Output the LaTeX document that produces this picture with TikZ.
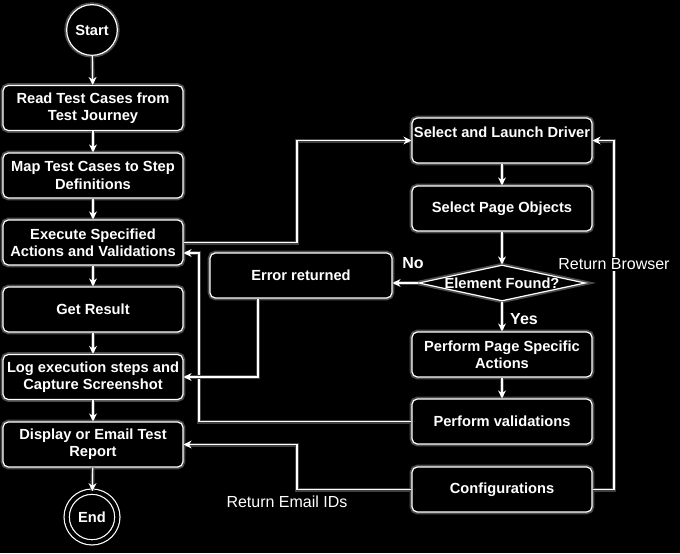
\documentclass[tikz,border=0pt]{standalone}
\usepackage{fontspec}
\setmainfont{Liberation Sans}
\usetikzlibrary{arrows.meta, shapes.geometric, calc}

\begin{document}
\begin{tikzpicture}[x=0.75pt,y=0.75pt,yscale=-1,
  box/.style={draw=white, line width=0.9pt, rounded corners=4pt, fill=black, text=white,
    font=\bfseries\fontsize{11}{13}\selectfont, align=center,
    minimum width=135pt, minimum height=33.75pt, inner sep=1pt,
    preaction={draw=white!30!black, line width=3.5pt}},
  terminal/.style={circle, draw=white, line width=0.9pt, fill=black, text=white,
    font=\bfseries\fontsize{11}{13}\selectfont, minimum size=38pt, inner sep=0pt,
    preaction={draw=white!30!black, line width=3.5pt}},
  decision/.style={diamond, draw=white, line width=0.9pt, fill=black,
    minimum width=125pt, minimum height=27pt, inner sep=0pt,
    preaction={draw=white!30!black, line width=3.5pt}},
  flow/.style={draw=white, line width=0.9pt, -{Stealth[length=6pt,width=6pt,inset=2pt]},
    preaction={draw=white!25!black, line width=3pt, -}},
  lbl/.style={text=white, fill=black, inner sep=1pt, font=\fontsize{12}{14}\selectfont},
  tag/.style={text=white, inner sep=1pt, font=\bfseries\fontsize{12}{14}\selectfont}]

%background
\fill[black] (0,0) rectangle (680,553);

%bend columns
\coordinate (jA) at (297,0);
\coordinate (jB) at (199,0);
\coordinate (jC) at (258,0);
\coordinate (jD) at (614,0);

%left column
\node[terminal] (start) at (92,30) {Start};
\node[box] (read) at (93,108) {Read Test Cases from\\Test Journey};
\node[box] (map) at (93,175.5) {Map Test Cases to Step\\Definitions};
\node[box] (exec) at (93,242.5) {Execute Specified\\Actions and Validations};
\node[box] (result) at (93,309.5) {Get Result};
\node[box] (log) at (93,377) {Log execution steps and\\Capture Screenshot};
\node[box] (disp) at (93,444.5) {Display or Email Test\\Report};
\node[terminal, double=black, double distance=3pt] (end) at (92,517) {End};

%right column
\node[box, text depth=13pt] (launch) at (502,140.5) {Select and Launch Driver};
\node[box] (objects) at (502,208.5) {Select Page Objects};
\node[decision, label={[text=white, font=\bfseries\fontsize{11}{13}\selectfont]center:Element Found?}] (found) at (502,283) {};
\node[box] (actions) at (502,354.5) {Perform Page Specific\\Actions};
\node[box] (valid) at (502,421.5) {Perform validations};
\node[box] (conf) at (502,489.5) {Configurations};
\node[box, minimum width=136.5pt] (err) at (301,275.5) {Error returned};

%main flow
\draw[flow] (start) -- (read);
\draw[flow] (read) -- (map);
\draw[flow] (map) -- (exec);
\draw[flow] (exec) -- (result);
\draw[flow] (result) -- (log);
\draw[flow] (log) -- (disp);
\draw[flow] (disp) -- (end);

%driver flow
\draw[flow] (exec.east) -- (exec.east -| jA) |- (launch.west);
\draw[flow] (launch) -- (objects);
\draw[flow] (objects) -- (found);
\draw[flow] (found.west) -- (found.west -| err.east);
\draw[flow] (found) -- (actions);
\draw[flow] (actions) -- (valid);
\draw[flow] (valid.west) -- (valid.west -| jB) |- ($(exec.east)+(0,10.5)$);
\draw[flow] (err.south -| jC) |- (log.east);
\draw[flow] (conf.west) -- (conf.west -| jA) |- (disp.east);
\draw[flow] (conf.east) -- (conf.east -| jD) |- (launch.east);

% Text Node
\node[tag] (no) at (413,263) {No};
% Text Node
\node[tag] (yes) at (524,319) {Yes};
% Text Node
\node[lbl] (browser) at (614,264) {Return Browser};
% Text Node
\node[lbl] (email) at (287,502) {Return Email IDs};

\end{tikzpicture}
\end{document}
